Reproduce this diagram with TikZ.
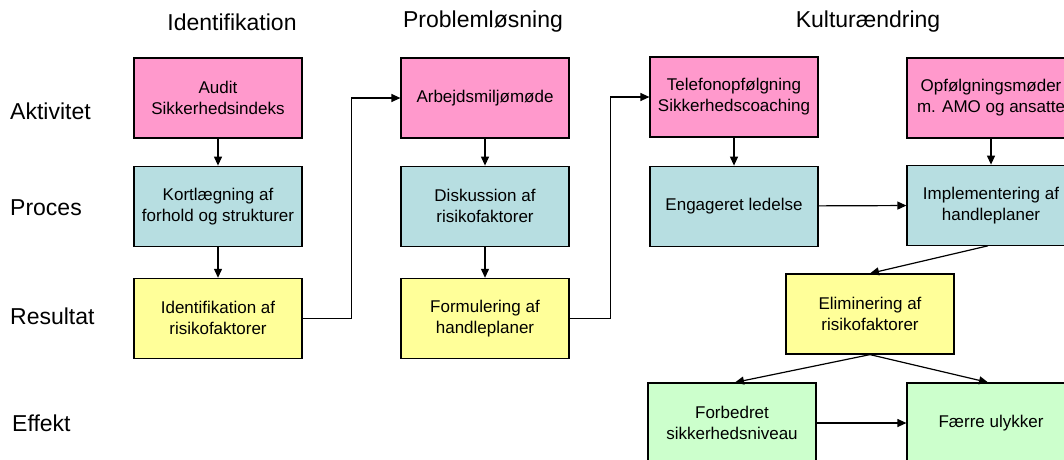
\documentclass[tikz,border=0pt]{standalone}
\usepackage{fontspec}
\setmainfont{Liberation Sans}
\usetikzlibrary{positioning,arrows.meta}

\definecolor{aktpink}{HTML}{FF99CC}
\definecolor{procblue}{HTML}{B7DEE1}
\definecolor{resyellow}{HTML}{FFFF99}
\definecolor{effgreen}{HTML}{CCFFCC}

\tikzset{
  box/.style={draw, line width=1.2pt, minimum width=168pt, minimum height=80pt,
    align=center, inner sep=2pt, font=\fontsize{17}{21}\selectfont},
  akt/.style={box, fill=aktpink},
  proc/.style={box, fill=procblue},
  res/.style={box, fill=resyellow},
  eff/.style={box, fill=effgreen},
  head/.style={font=\fontsize{23}{27}\selectfont},
  rowlabel/.style={font=\fontsize{23}{27}\selectfont, anchor=west, inner sep=0pt},
  pil/.style={-{Triangle[length=9pt,width=8pt]}, line width=1.2pt}
}

\begin{document}
\begin{tikzpicture}[x=1pt,y=-1pt]
  \useasboundingbox (0,0) rectangle (1064,459);
  \clip (0,0) rectangle (1064,459);

  % overskrifter
  \node[head] (hid) at (232,22) {Identifikation};
  \node[head] (hpl) at (483,22) {Problemløsning};
  \node[head] (hku) at (868,22) {Kulturændring};

  \node[rowlabel] (lakt) at (10,111) {Aktivitet};
  \node[rowlabel] (lpro) at (10,208) {Proces};
  \node[rowlabel] (lres) at (10,316) {Resultat};
  \node[rowlabel] (leff) at (12,423) {Effekt};

  % identifikation
  \node[akt] (audit) at (218,98) {Audit\\Sikkerhedsindeks};
  \node[proc, below=27pt of audit] (kort) {Kortlægning af\\forhold og strukturer};
  \node[res, below=31pt of kort] (ident) {Identifikation af\\risikofaktorer};

  % problemløsning
  \node[akt] (arb) at (485,98) {Arbejdsmiljømøde};
  \node[proc, below=27pt of arb] (disk) {Diskussion af\\risikofaktorer};
  \node[res, below=31pt of disk] (form) {Formulering af\\handleplaner};

  % kulturændring
  \node[akt] (tlf) at (734,97) {Telefonopfølgning\\Sikkerhedscoaching};
  \node[proc, below=28pt of tlf] (eng) {Engageret ledelse};
  \node[akt] (opf) at (991,98) {Opfølgningsmøder\\m. AMO og ansatte};
  \node[proc, below=26pt of opf] (impl) {Implementering af\\handleplaner};
  \node[res] (elim) at (870,314) {Eliminering af\\risikofaktorer};
  \node[eff] (forb) at (732,423) {Forbedret\\sikkerhedsniveau};
  \node[eff] (faer) at (991,423) {Færre ulykker};

  % pile
  \draw[pil] (audit) -- (kort);
  \draw[pil] (kort) -- (ident);
  \draw[pil] (arb) -- (disk);
  \draw[pil] (disk) -- (form);
  \draw[pil] (tlf) -- (eng);
  \draw[pil] (opf) -- (impl);
  \draw[pil] (ident.east) -- ++(49,0) |- (arb.west);
  \draw[pil] (form.east) -- ++(41,0) |- (tlf.west);
  \draw[pil] (eng) -- (impl);
  \draw[pil] ([xshift=-3pt]impl.south) -- (elim.north);
  \draw[pil] (elim.south) -- ([xshift=3pt]forb.north);
  \draw[pil] (elim.south) -- ([xshift=-3pt]faer.north);
  \draw[pil] (forb) -- (faer);
\end{tikzpicture}
\end{document}
